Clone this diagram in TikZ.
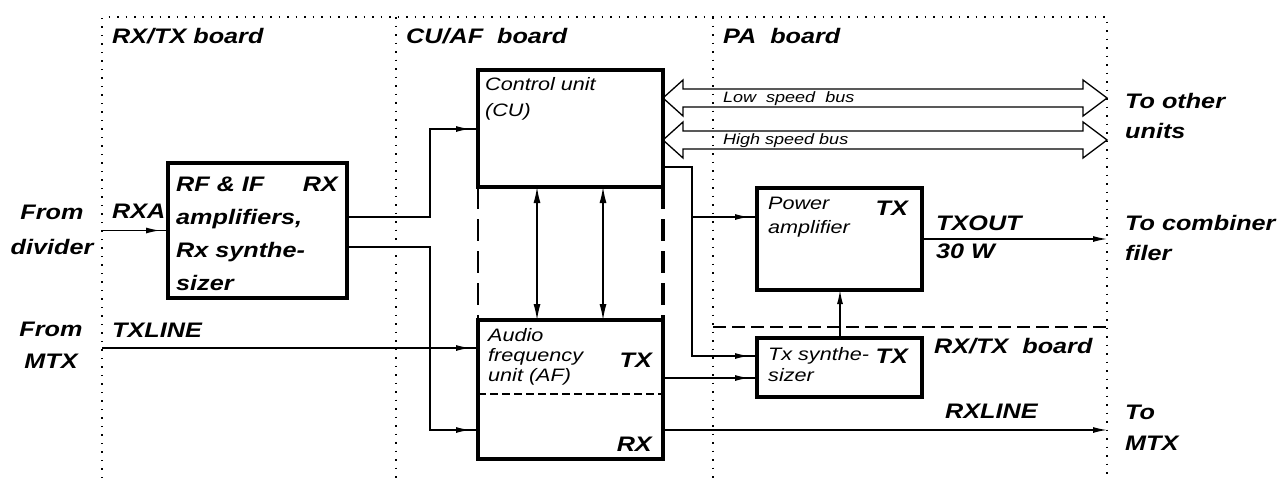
\documentclass[tikz,border=0pt]{standalone}
\usepackage{fontspec}
\setmainfont{Liberation Sans}[FakeStretch=1.2]
\usetikzlibrary{arrows.meta,decorations.markings}

\begin{document}
\begin{tikzpicture}[x=1pt, y=-1pt,
  box/.style={draw, line width=3.2pt, inner sep=0, outer sep=0},
  lbl/.style={font=\fontsize{21}{30}\selectfont\bfseries\itshape, inner sep=0},
  utxt/.style={font=\fontsize{18}{20}\selectfont\itshape, inner sep=0, align=left, anchor=north west},
  bustxt/.style={font=\fontsize{15}{18}\selectfont\itshape, inner sep=0, anchor=base west},
  boardline/.style={line width=1.5pt, dash pattern=on 1.5pt off 7pt},
  conn/.style={line width=1.3pt, postaction={decorate},
    decoration={markings, mark=at position -8pt with {\arrow{Latex[length=14pt,width=6pt]}}}},
  outarr/.style={line width=1.3pt, -{Latex[length=14pt,width=6pt]}},
  dblarr/.style={line width=1.3pt, {Latex[length=16pt,width=7pt]}-{Latex[length=16pt,width=7pt]}},
  bus/.style={line width=1.3pt}]
  \useasboundingbox (0,0) rectangle (1279,485);

  % boards
  \draw[boardline] (102,478) -- (102,17) -- (1107,17) -- (1107,478);
  \draw[boardline] (396,17) -- (396,478);
  \draw[boardline] (713,17) -- (713,478);
  \draw[line width=1.3pt, dash pattern=on 13pt off 6pt] (713,327) -- (1107,327);
  \node[lbl, anchor=base west] (brdrf) at (112,43) {RX/TX board};
  \node[lbl, anchor=base west] (brdcu) at (406,43) {CU/AF~~board};
  \node[lbl, anchor=base west] (brdpa) at (723,43) {PA~~board};
  \node[lbl, anchor=base west] (brdtx) at (934,353) {RX/TX~~board};

  % units
  \node[box, minimum width=179, minimum height=135] (rf) at (257.5,230.5) {};
  \node[box, minimum width=185, minimum height=117] (cu) at (570.5,128.5) {};
  \node[box, minimum width=185, minimum height=139] (af) at (570.5,389.5) {};
  \node[box, minimum width=165, minimum height=102] (pa) at (839.5,239) {};
  \node[box, minimum width=165, minimum height=59] (txs) at (839.5,367.5) {};

  \node[lbl, anchor=north west, align=left, font=\fontsize{21}{33}\selectfont\bfseries\itshape]
    (rftxt) at (176,177) {RF \& IF\\amplifiers,\\Rx synthe-\\sizer};
  \node[lbl, anchor=north east] (rfrx) at (338,177) {RX};
  \node[utxt, font=\fontsize{18}{26}\selectfont\itshape] (cutxt) at (485,77) {Control unit\\(CU)};
  \node[utxt] (aftxt) at (488,328) {Audio\\frequency\\unit (AF)};
  \node[lbl, anchor=base east] (aftx) at (652,367) {TX};
  \node[lbl, anchor=base east] (afrx) at (652,451) {RX};
  \node[utxt, font=\fontsize{18}{24}\selectfont\itshape] (patxt) at (768,197) {Power\\amplifier};
  \node[lbl, anchor=base east] (patx) at (908,215) {TX};
  \node[utxt, font=\fontsize{18}{21}\selectfont\itshape] (txstxt) at (768,347) {Tx synthe-\\sizer};
  \node[lbl, anchor=base east] (txstx) at (908,363) {TX};

  \draw[line width=1.3pt, dash pattern=on 22pt off 10pt] (cu.south west) -- (af.north west);
  \draw[line width=3.2pt, dash pattern=on 22pt off 10pt] (cu.south east) -- (af.north east);
  \draw[line width=1.3pt, dash pattern=on 8pt off 4pt] (af.west |- 0,394) -- (af.east |- 0,394);

  % outside
  \node[lbl, anchor=north, align=center, font=\fontsize{21}{35}\selectfont\bfseries\itshape]
    (fromdiv) at (52,205) {From\\divider};
  \node[lbl, anchor=north, align=center, font=\fontsize{21}{32}\selectfont\bfseries\itshape]
    (frommtx) at (51,322) {From\\MTX};
  \node[lbl, anchor=base west] (rxa) at (112,218) {RXA};
  \node[lbl, anchor=base west] (txline) at (112,337) {TXLINE};
  \node[lbl, anchor=north west, align=left, font=\fontsize{21}{28}\selectfont\bfseries\itshape]
    (txout) at (936,216) {TXOUT\\30 W};
  \node[lbl, anchor=base west] (rxline) at (945,418) {RXLINE};
  \node[lbl, anchor=north west, align=left, font=\fontsize{21}{30}\selectfont\bfseries\itshape]
    (toother) at (1125,93) {To other\\units};
  \node[lbl, anchor=north west, align=left, font=\fontsize{21}{30}\selectfont\bfseries\itshape]
    (tocomb) at (1125,215) {To combiner\\filer};
  \node[lbl, anchor=north west, align=left, font=\fontsize{21}{31}\selectfont\bfseries\itshape]
    (tomtx) at (1125,405) {To\\MTX};

  \coordinate (rxain) at (102,230.5);
  \coordinate (txlin) at (102,348);
  \coordinate (txo) at (1107,239);
  \coordinate (rxo) at (1107,430);

  % signals
  \draw[conn] (rxain) -- (rf.west);
  \draw[conn] (txlin) -- (af.west |- txlin);
  \draw[conn] (rf.east |- 0,217) -| (430,129) -- (cu.west |- 0,129);
  \draw[conn] (rf.east |- 0,247) -| (430,430) -- (af.west |- 0,430);
  \draw[conn] (cu.east |- 0,167) -| (692,356) -- (txs.west |- 0,356);
  \draw[conn] (692,217) -- (pa.west |- 0,217);
  \draw[conn] (af.east |- 0,378) -- (txs.west |- 0,378);
  \draw[outarr] (pa.east) -- (txo);
  \draw[outarr] (af.east |- rxo) -- (rxo);
  \draw[outarr] (txs.north -| 840,0) -- (pa.south -| 840,0);
  \draw[dblarr] (cu.south -| 537,0) -- (af.north -| 537,0);
  \draw[dblarr] (cu.south -| 603,0) -- (af.north -| 603,0);

  % buses
  \foreach \yb in {98,140}
    \draw[bus] (cu.east |- 0,\yb) -- ++(20,-18) -- ++(0,9) -- ++(400,0) -- ++(0,-9)
      -- ++(24,18) -- ++(-24,18) -- ++(0,-9) -- ++(-400,0) -- ++(0,9) -- cycle;
  \node[bustxt] (lowbus) at (723,102) {Low~~speed~~bus};
  \node[bustxt] (highbus) at (723,144) {High speed bus};
\end{tikzpicture}
\end{document}
